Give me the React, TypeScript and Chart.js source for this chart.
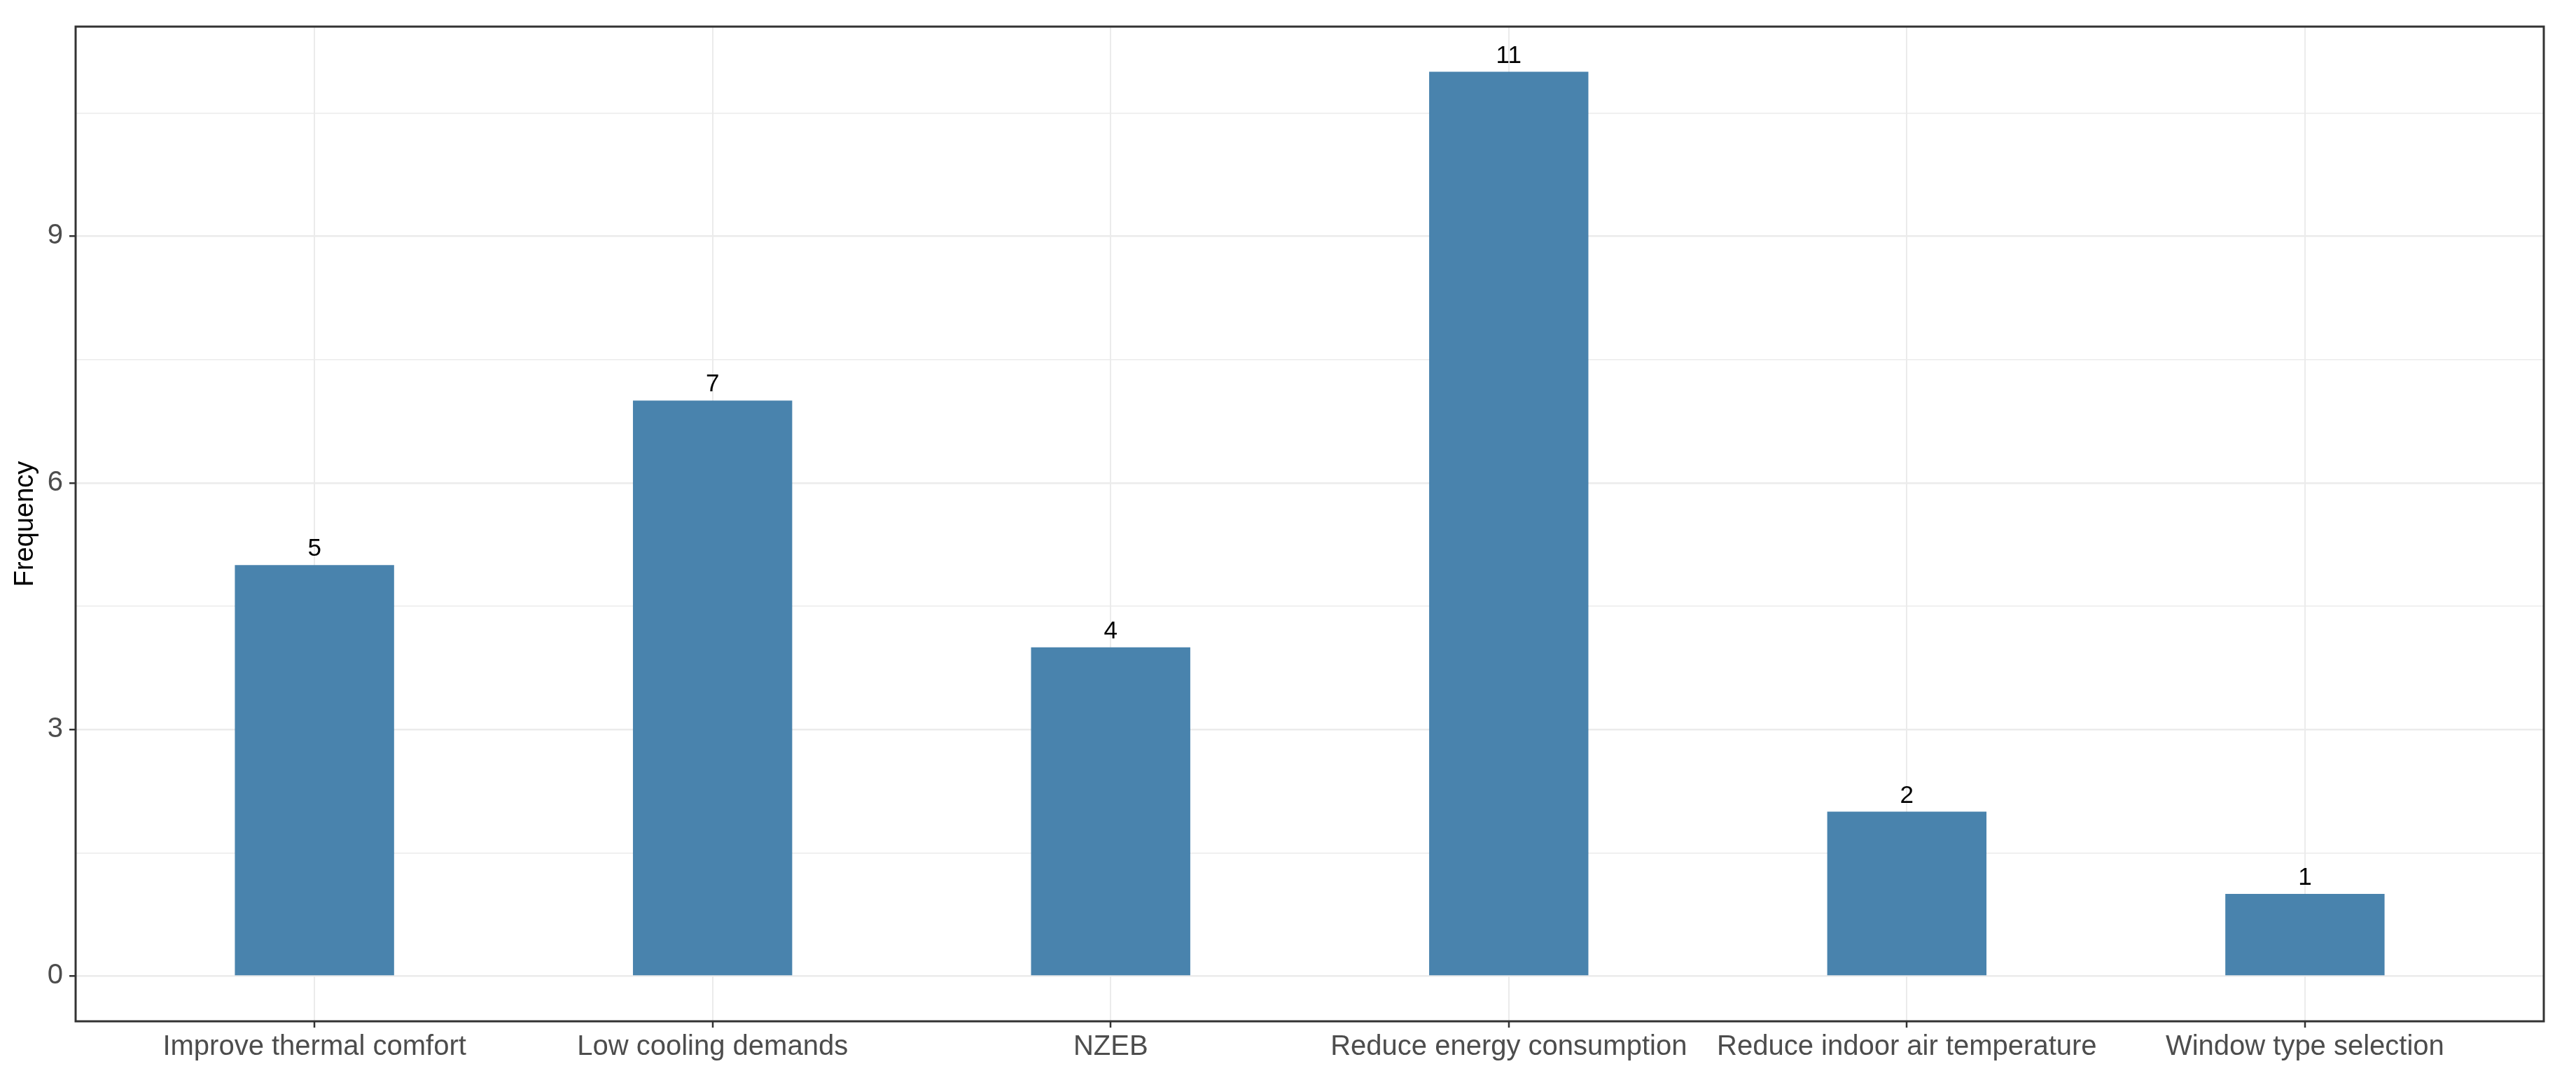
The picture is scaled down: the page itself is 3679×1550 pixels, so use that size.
import React, { useEffect, useRef } from "react";
import { Chart, registerables } from "chart.js";

Chart.register(...registerables);

const categories = [
  "Improve thermal comfort",
  "Low cooling demands",
  "NZEB",
  "Reduce energy consumption",
  "Reduce indoor air temperature",
  "Window type selection",
];
const frequencies = [5, 7, 4, 11, 2, 1];
const yGridValues = [0, 1.5, 3, 4.5, 6, 7.5, 9, 10.5];
const yLabelledValues = [0, 3, 6, 9];

const FONT = "'Liberation Sans', Arial, sans-serif";

const panelBorder = {
  id: "panelBorder",
  afterDraw(chart: any) {
    const { ctx, chartArea } = chart;
    ctx.save();
    ctx.strokeStyle = "#333333";
    ctx.lineWidth = 3;
    ctx.strokeRect(chartArea.left, chartArea.top, chartArea.right - chartArea.left, chartArea.bottom - chartArea.top);
    ctx.restore();
  },
};

const barLabels = {
  id: "barLabels",
  afterDatasetsDraw(chart: any) {
    const { ctx } = chart;
    const meta = chart.getDatasetMeta(0);
    ctx.save();
    ctx.fillStyle = "#000000";
    ctx.font = `35px ${FONT}`;
    ctx.textAlign = "center";
    ctx.textBaseline = "alphabetic";
    meta.data.forEach((bar: any, i: number) => {
      ctx.fillText(String(frequencies[i]), bar.x, bar.y - 13);
    });
    ctx.restore();
  },
};

export default function App() {
  const ref = useRef<HTMLCanvasElement | null>(null);

  useEffect(() => {
    document.body.style.margin = "0";
    if (!ref.current) return;
    const chart = new Chart(ref.current, {
      type: "bar",
      data: {
        datasets: [
          {
            data: frequencies.map((v, i) => ({ x: i + 1, y: v })),
            backgroundColor: "rgba(66,126,170,0.96)",
            borderWidth: 0,
            barPercentage: 0.4,
            categoryPercentage: 1,
          },
        ],
      },
      options: {
        responsive: false,
        animation: false,
        layout: { padding: { left: 0, top: 38, right: 46, bottom: 0 } },
        plugins: {
          legend: { display: false },
          tooltip: { enabled: false },
        },
        scales: {
          x: {
            type: "linear",
            min: 0.4,
            max: 6.6,
            offset: false,
            afterBuildTicks: (scale: any) => {
              scale.ticks = categories.map((_, i) => ({ value: i + 1 }));
            },
            afterFit: (scale: any) => {
              scale.height = 91;
            },
            border: { display: false },
            grid: {
              offset: false,
              color: "#ebebeb",
              lineWidth: 2,
              tickColor: "#333333",
              tickLength: 9,
              tickWidth: 2.5,
            },
            ticks: {
              autoSkip: false,
              maxRotation: 0,
              padding: 4,
              color: "#4d4d4d",
              font: { family: FONT, size: 40 },
              callback: (v: any) => categories[Math.round(v) - 1] ?? "",
            },
          },
          y: {
            type: "linear",
            min: -0.55,
            max: 11.55,
            afterBuildTicks: (scale: any) => {
              scale.ticks = yGridValues.map((v) => ({ value: v }));
            },
            afterFit: (scale: any) => {
              scale.width = 108;
            },
            border: { display: false },
            grid: {
              color: "#ebebeb",
              lineWidth: (ctx: any) => (yLabelledValues.includes(ctx.tick?.value) ? 2.5 : 1.5),
              tickColor: (ctx: any) => (yLabelledValues.includes(ctx.tick?.value) ? "#333333" : "rgba(0,0,0,0)"),
              tickLength: 9,
              tickWidth: 2.5,
            },
            ticks: {
              padding: 9,
              color: "#4d4d4d",
              font: { family: FONT, size: 40 },
              callback: (v: any) => (yLabelledValues.includes(v) ? String(v) : ""),
            },
            title: {
              display: true,
              text: "Frequency",
              color: "#000000",
              font: { family: FONT, size: 38 },
              padding: { top: 14, bottom: 0 },
            },
          },
        },
      },
      plugins: [panelBorder, barLabels],
    } as any);
    return () => chart.destroy();
  }, []);

  return (
    <div style={{ width: 3679, height: 1550, background: "#ffffff" }}>
      <canvas ref={ref} width={3679} height={1550} style={{ display: "block" }} />
    </div>
  );
}
